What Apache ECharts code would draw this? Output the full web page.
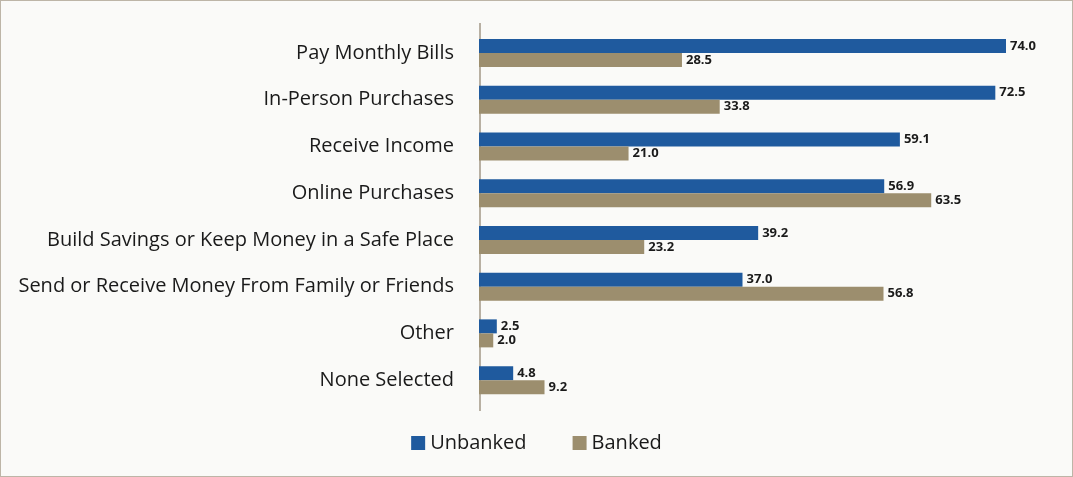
<!DOCTYPE html>
<html>
<head>
<meta charset="utf-8">
<script src="https://cdn.jsdelivr.net/npm/echarts@6/dist/echarts.min.js"></script>
<style>
html,body{margin:0;padding:0;background:#fafaf8;}
#c{width:1073px;height:477px;box-sizing:border-box;border:1px solid #bdb5a7;background:#fafaf8;}
</style>
</head>
<body>
<div id="c"></div>
<script>
const categories = ["Pay Monthly Bills","In-Person Purchases","Receive Income","Online Purchases","Build Savings or Keep Money in a Safe Place","Send or Receive Money From Family or Friends","Other","None Selected"];
const unbanked = [74.0,72.5,59.1,56.9,39.2,37.0,2.5,4.8];
const banked = [28.5,33.8,21.0,63.5,23.2,56.8,2.0,9.2];
const seriesNames = ["Unbanked","Banked"];

const chart = echarts.init(document.getElementById('c'), null, {renderer:'canvas'});
const labelStyle = {show:true, position:'right', distance:4, fontFamily:'"Source Sans Pro","Open Sans",sans-serif', fontWeight:'bold', fontSize:13, color:'#1a1a1a', formatter: p => p.value.toFixed(1)};
chart.setOption({
  backgroundColor:'#fafaf8',
  animation:false,
  grid:{left:478, width:527, top:28.5, height:374},
  xAxis:{type:'value', min:0, max:74, show:false},
  yAxis:{type:'category', data:categories, inverse:true,
    axisLine:{show:false}, axisTick:{show:false},
    axisLabel:{fontFamily:'"Source Sans Pro","Open Sans",sans-serif', fontSize:20, color:'#1a1a1a', margin:25}},
  legend:{bottom:18, left:'center', itemWidth:14, itemHeight:14, itemGap:46, icon:'rect',
    textStyle:{fontFamily:'"Source Sans Pro","Open Sans",sans-serif', fontSize:20, color:'#1a1a1a'}},
  graphic:[{type:'line', shape:{x1:479, y1:22, x2:479, y2:410}, style:{stroke:'#b8b0a3', lineWidth:2}}],
  series:[
    {name:seriesNames[0], type:'bar', data:unbanked, barWidth:14, barGap:'0%', itemStyle:{color:'#1f5a9e'}, label:labelStyle},
    {name:seriesNames[1], type:'bar', data:banked, barWidth:14, barGap:'0%', itemStyle:{color:'#9c8e6e'}, label:labelStyle}
  ]
});
</script>
</body>
</html>
